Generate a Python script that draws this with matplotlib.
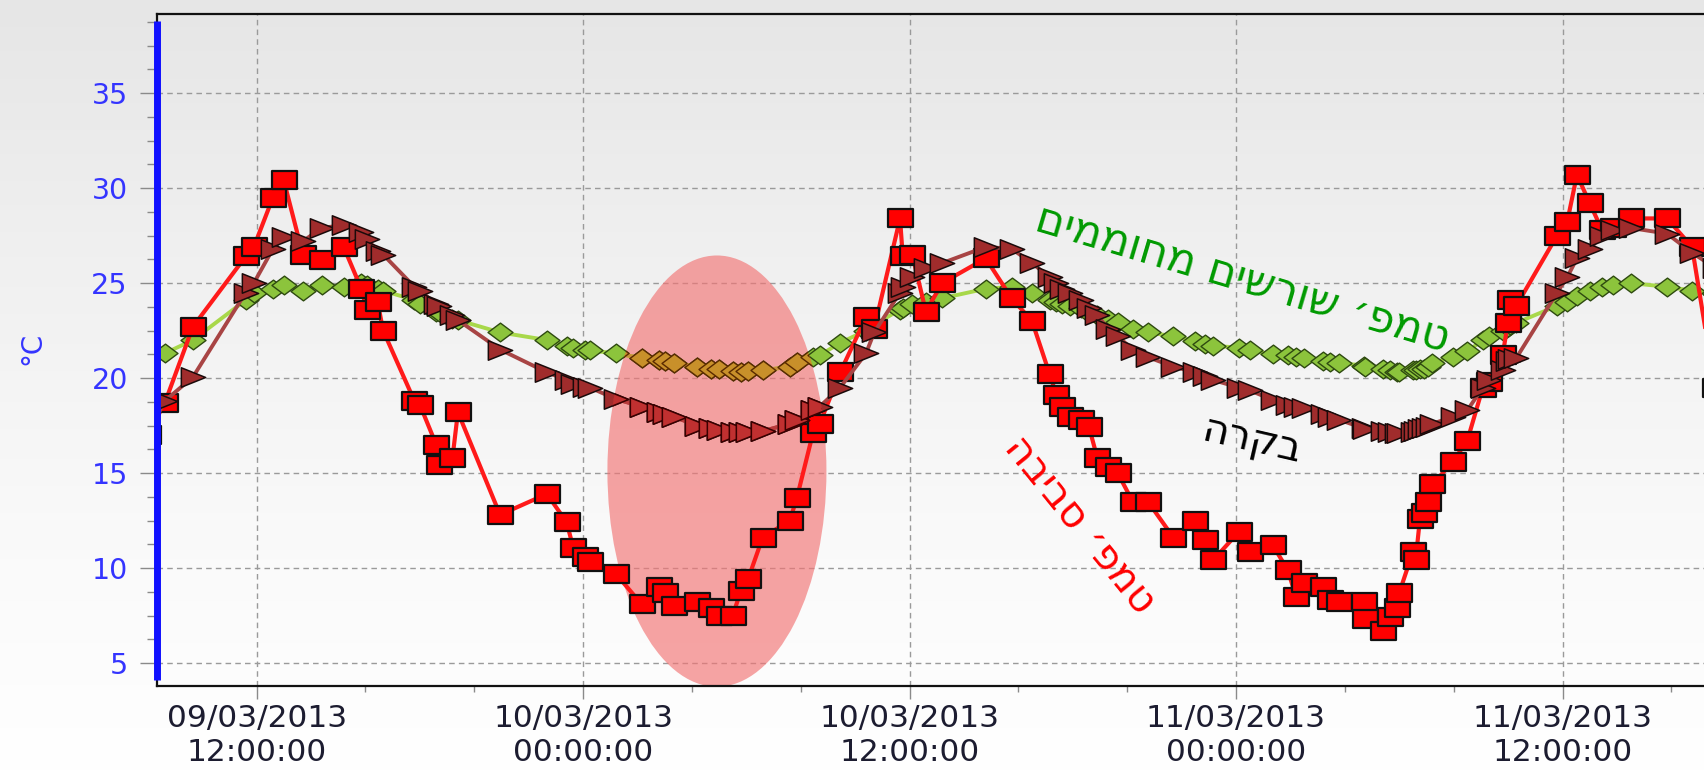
import matplotlib
matplotlib.use('Agg')
import matplotlib.pyplot as plt
import matplotlib.dates as mdates
from matplotlib.path import Path
from matplotlib.patches import Ellipse
from matplotlib.ticker import MultipleLocator, FixedLocator
from matplotlib.colors import LinearSegmentedColormap
import numpy as np
import pandas as pd

plt.rcParams['font.family'] = ['DejaVu Sans']

# ---------------- data ----------------
start = pd.Timestamp('2013-03-09 00:00:00')
hours = [8.0, 8.63, 9.66, 11.6, 11.9, 12.6, 13.0, 13.7, 14.4, 15.2, 15.85, 16.05, 16.45, 16.65,
         17.8, 18.0, 18.6, 18.7, 19.2, 19.4, 20.95, 22.67, 23.4, 23.64, 24.07, 24.25, 25.2,
         26.15, 26.8, 27.0, 27.35, 28.2, 28.7, 29.0, 29.5, 29.8, 30.06, 30.6, 31.6, 31.86,
         32.45, 32.7, 33.45, 34.4, 34.7, 35.65, 35.75, 36.1, 36.6, 37.2, 38.8, 39.75, 40.5,
         41.15, 41.4, 41.6, 41.9, 42.3, 42.6, 42.9, 43.3, 43.65, 44.2, 44.76, 45.7, 46.5,
         46.85, 47.15, 48.1, 48.5, 49.35, 49.9, 50.2, 50.5, 51.2, 51.45, 51.8, 52.7, 52.75,
         53.4, 53.65, 53.9, 54.0, 54.5, 54.6, 54.76, 54.9, 55.05, 55.22, 55.97, 56.5, 57.07,
         57.3, 57.8, 57.99, 58.06, 58.3, 59.8, 60.17, 60.53, 61.0, 61.45, 61.85, 62.5, 63.84,
         64.76, 65.6]
ambient = [17.0, 18.7, 22.7, 26.4, 26.9, 29.5, 30.4, 26.5, 26.2, 26.9, 24.7, 23.6, 24.0, 22.5,
           18.8, 18.6, 16.5, 15.4, 15.8, 18.2, 12.8, 13.9, 12.4, 11.05, 10.6, 10.3, 9.7,
           8.1, 9.0, 8.7, 8.0, 8.2, 7.9, 7.5, 7.5, 8.8, 9.4, 11.6, 12.5, 13.7,
           17.1, 17.6, 20.3, 23.2, 22.6, 28.4, 26.4, 26.5, 23.5, 25.0, 26.3, 24.2, 23.0,
           20.2, 19.1, 18.5, 17.95, 17.8, 17.4, 15.8, 15.3, 15.0, 13.5, 13.5, 11.6, 12.5,
           11.5, 10.4, 11.9, 10.85, 11.2, 9.9, 8.5, 9.2, 9.0, 8.3, 8.2, 8.2, 7.3,
           6.7, 7.4, 7.9, 8.7, 10.85, 10.4, 12.6, 12.9, 13.5, 14.4, 15.6, 16.7, 19.5,
           19.8, 21.2, 22.9, 24.1, 23.8, 27.5, 28.2, 30.7, 29.2, 27.8, 27.9, 28.4, 28.4,
           26.9, 19.5]
control = [17.0, 18.8, 20.05, 24.5, 25.0, 26.8, 27.4, 27.2, 27.9, 28.05, 27.7, 27.3, 26.7, 26.5,
           24.8, 24.6, 23.9, 23.8, 23.3, 23.05, 21.5, 20.3, 19.9, 19.7, 19.55, 19.5, 18.9,
           18.5, 18.2, 18.1, 17.95, 17.5, 17.35, 17.25, 17.15, 17.15, 17.15, 17.2, 17.6, 17.8,
           18.3, 18.5, 19.5, 21.3, 22.4, 24.5, 24.8, 25.3, 25.8, 26.05, 26.9, 26.8, 26.05,
           25.3, 25.0, 24.7, 24.5, 24.1, 23.7, 23.3, 22.6, 22.2, 21.5, 21.1, 20.6, 20.3,
           20.1, 19.9, 19.5, 19.35, 18.85, 18.6, 18.5, 18.4, 18.1, 17.95, 17.8, 17.35, 17.3,
           17.2, 17.15, 17.1, 17.1, 17.15, 17.2, 17.3, 17.35, 17.4, 17.6, 17.95, 18.3, 19.5,
           19.9, 20.4, 20.9, 21.0, 21.05, 24.5, 25.3, 26.3, 26.8, 27.5, 27.8, 27.9, 27.6,
           26.6, 25.8]
heated = [21.0, 21.3, 22.0, 24.1, 24.5, 24.7, 24.9, 24.6, 24.9, 24.8, 25.0, 24.9, 24.7, 24.6,
          24.1, 23.9, 23.5, 23.45, 23.1, 23.05, 22.4, 22.0, 21.7, 21.6, 21.5, 21.45, 21.3,
          21.05, 20.95, 20.9, 20.8, 20.6, 20.5, 20.45, 20.35, 20.3, 20.35, 20.4, 20.6, 20.85,
          21.1, 21.2, 21.85, 22.5, 22.8, 23.6, 23.7, 23.9, 24.0, 24.2, 24.7, 24.8, 24.5,
          24.1, 24.0, 23.9, 23.8, 23.7, 23.4, 23.3, 23.1, 22.95, 22.6, 22.4, 22.2, 21.95,
          21.8, 21.7, 21.6, 21.45, 21.25, 21.2, 21.1, 21.05, 20.9, 20.85, 20.8, 20.65, 20.6,
          20.45, 20.4, 20.3, 20.3, 20.4, 20.4, 20.45, 20.5, 20.6, 20.8, 21.1, 21.4, 22.0,
          22.2, 22.5, 22.7, 22.8, 22.9, 23.8, 24.0, 24.3, 24.6, 24.8, 24.9, 25.0, 24.8,
          24.6, 24.4]
y_major_ticks = [5, 10, 15, 20, 25, 30, 35]
label_heated = 'טמפ׳ שורשים מחוממים'
label_control = 'בקרה'
label_ambient = 'טמפ׳ סביבה'
y_unit = '°C'

times = (start + pd.to_timedelta(hours, unit='h')).to_pydatetime()

W, H = 1704, 773
fig = plt.figure(figsize=(W / 100, H / 100), dpi=100)

# background gradient
bg = fig.add_axes([0, 0, 1, 1], zorder=-10)
grad = np.linspace(0, 1, 256).reshape(-1, 1)
cmap = LinearSegmentedColormap.from_list('bg', ['#e6e6e6', '#f0f0f0', '#f9f9f9', '#ffffff'])
bg.imshow(grad, aspect='auto', cmap=cmap, extent=[0, 1, 0, 1], origin='upper')
bg.axis('off')

left_px, right_px, top_px, bot_px = 157, 1704, 14, 686
ax = fig.add_axes([left_px / W, 1 - bot_px / H, (right_px - left_px) / W, (bot_px - top_px) / H])
ax.patch.set_visible(False)

# custom marker shapes
C = [Path.MOVETO, Path.LINETO, Path.LINETO, Path.LINETO, Path.CLOSEPOLY]
rect_m = Path([(-1, -0.72), (1, -0.72), (1, 0.72), (-1, 0.72), (-1, -0.72)], C)
tri_m = Path([(-1, -0.8), (1, 0), (-1, 0.8), (-1, -0.8)],
             [Path.MOVETO, Path.LINETO, Path.LINETO, Path.CLOSEPOLY])
dia_m = Path([(0, 0.75), (1, 0), (0, -0.75), (-1, 0), (0, 0.75)], C)

ax.plot(times, heated, color='#a8d84a', lw=2.8, marker=dia_m, markersize=18,
        markerfacecolor='#8cc43c', markeredgecolor='#2e4a10', markeredgewidth=1.0, zorder=3)
ax.plot(times, ambient, color='#ff1a1a', lw=3.0, marker=rect_m, markersize=18,
        markerfacecolor='#ff0000', markeredgecolor='#111111', markeredgewidth=1.6, zorder=4)
ax.plot(times, control, color='#a84444', lw=2.8, marker=tri_m, markersize=17.5,
        markerfacecolor='#a02c2c', markeredgecolor='#1a0a0a', markeredgewidth=1.1, zorder=5)

# highlighted night region
t0 = mdates.date2num(start.to_pydatetime())
ell = Ellipse((t0 + 28.92 / 24, 15.1), width=8.05 / 24, height=22.7,
              facecolor='#f27575', edgecolor='none', alpha=0.66, zorder=1.5)
ax.add_patch(ell)
g2, = ax.plot(times, heated, color='#c89038', lw=2.8, marker=dia_m, markersize=18,
              markerfacecolor='#c8902a', markeredgecolor='#5a2a00', markeredgewidth=1.0, zorder=3.5)
g2.set_clip_path(ell)
b2, = ax.plot(times, control, color='#bb3c3c', lw=2.8, marker=tri_m, markersize=17.5,
              markerfacecolor='#c03030', markeredgecolor='#3a0000', markeredgewidth=1.1, zorder=5.5)
b2.set_clip_path(ell)

# axes limits and ticks
ax.set_xlim((start + pd.Timedelta(hours=8.34)).to_pydatetime(),
            (start + pd.Timedelta(hours=65.2)).to_pydatetime())
ax.set_ylim(3.79, 39.16)
ax.yaxis.set_major_locator(FixedLocator(y_major_ticks))
ax.yaxis.set_minor_locator(MultipleLocator(1.25))
ax.xaxis.set_major_locator(mdates.HourLocator(byhour=[0, 12]))
ax.xaxis.set_minor_locator(mdates.HourLocator(byhour=range(0, 24, 4)))
ax.xaxis.set_major_formatter(mdates.DateFormatter('%d/%m/%Y\n%H:%M:%S'))

ax.set_axisbelow(True)
ax.grid(True, which='major', color='#9a9a9a', linestyle=(0, (4, 3)), linewidth=1.0)

ax.tick_params(axis='y', which='major', length=12, width=1, color='#8a8a8a',
               labelsize=20.5, labelcolor='#3434ff', pad=9)
ax.tick_params(axis='y', which='minor', length=7, width=1, color='#8a8a8a')
ax.tick_params(axis='x', which='major', length=9, width=1, color='#8a8a8a',
               labelsize=22.5, labelcolor='#1c1c30', pad=4)
ax.tick_params(axis='x', which='minor', length=4, width=1, color='#8a8a8a')

for s in ['top', 'bottom', 'left']:
    ax.spines[s].set_color('#111111')
    ax.spines[s].set_linewidth(1.6)
ax.spines['right'].set_visible(False)

# thick blue axis line
ax.plot([0, 0], [(bot_px - 680) / (bot_px - top_px), (bot_px - 21) / (bot_px - top_px)],
        transform=ax.transAxes, color='#1010ff', lw=5, clip_on=False, zorder=6,
        solid_capstyle='butt')

fig.text(32 / W, 1 - 348 / H, y_unit, rotation=90, color='#3434ff', fontsize=20,
         ha='center', va='center')

# Hebrew annotations (reversed for right-to-left display)
fig.text(1242 / W, 1 - 279 / H, label_heated[::-1], rotation=-16.5, rotation_mode='anchor',
         ha='center', va='center', color='#009a00', fontsize=31, zorder=10)
fig.text(1252 / W, 1 - 440 / H, label_control[::-1], rotation=-13, rotation_mode='anchor',
         ha='center', va='center', color='#000000', fontsize=29, zorder=10)
fig.text(1080 / W, 1 - 525 / H, label_ambient[::-1], rotation=-51, rotation_mode='anchor',
         ha='center', va='center', color='#ff0000', fontsize=29, zorder=10)

fig.savefig('out.png', dpi=100)
